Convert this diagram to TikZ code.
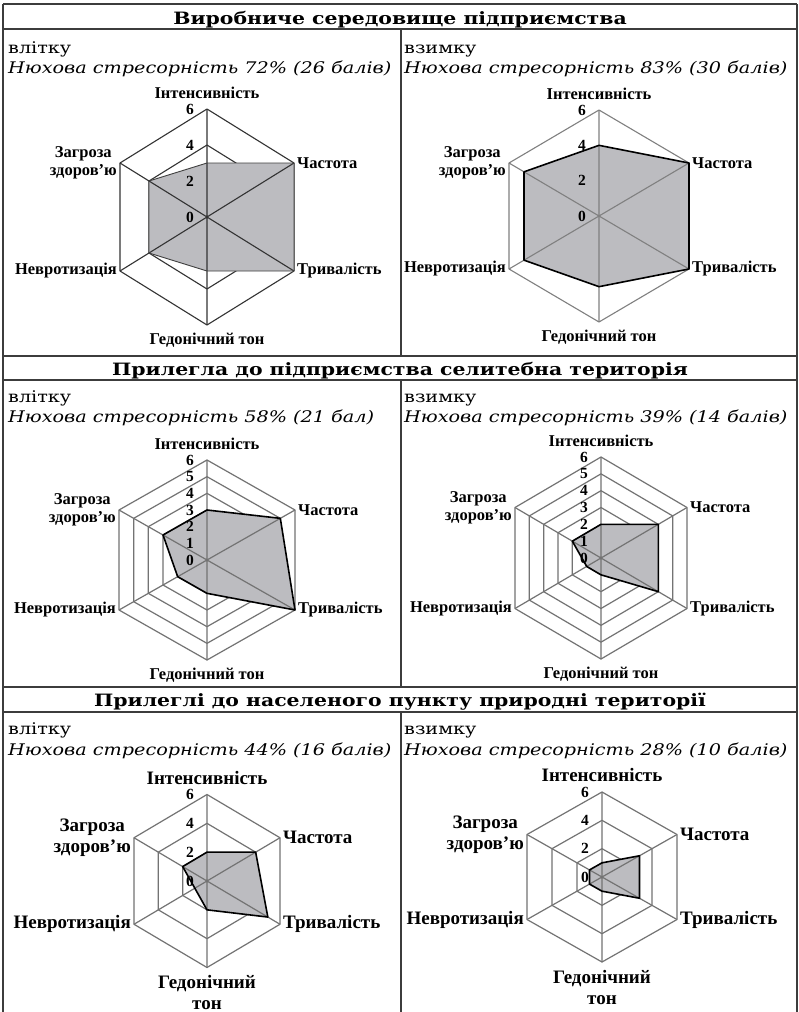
\documentclass[tikz,border=0pt]{standalone}
\usepackage{fontspec}
\setmainfont{DejaVu Serif}
\newfontfamily\titlefont[FakeStretch=1.2]{DejaVu Serif}
\newfontfamily\bodyfont[FakeStretch=1.2]{DejaVu Serif}
\newfontfamily\labfont{Liberation Serif}
\definecolor{fillgray}{RGB}{188,188,192}
\definecolor{tabline}{RGB}{60,60,60}

\newcommand\radar[8]{% id, cx, cy, R, W, rings, values, numbers
  \foreach \r in {#6} {
    \draw[grid] ({#2},{#3-#4*\r/6}) -- ({#2+#5*\r/6},{#3-#4*\r/12}) -- ({#2+#5*\r/6},{#3+#4*\r/12}) -- ({#2},{#3+#4*\r/6}) -- ({#2-#5*\r/6},{#3+#4*\r/12}) -- ({#2-#5*\r/6},{#3-#4*\r/12}) -- cycle;
  }
  \foreach \v [count=\k from 0] in {#7} {
    \coordinate (#1p\k) at ({#2+#5*\v/6*cos(90-60*\k)/cos(30)}, {#3-#4*\v/6*sin(90-60*\k)});
    \coordinate (#1v\k) at ({#2+#5*cos(90-60*\k)/cos(30)}, {#3-#4*sin(90-60*\k)});
  }
  \fill[fillgray] (#1p0) -- (#1p1) -- (#1p2) -- (#1p3) -- (#1p4) -- (#1p5) -- cycle;
  \draw[grid] (#1v0) -- (#1v3) (#1v1) -- (#1v4) (#1v2) -- (#1v5);
  \draw[outline] (#1p0) -- (#1p1) -- (#1p2) -- (#1p3) -- (#1p4) -- (#1p5) -- cycle;
  \foreach \n in {#8} {
    \node[num, anchor=east] (#1n\n) at ({#2-13},{#3-#4*\n/6}) {\n};
  }
}
\newcommand\radarlabels[2]{% id, hedonic text
  \node[lab, anchor=south] (#1int) at ([yshift=10pt]#1v0) {Інтенсивність};
  \node[lab, anchor=west] (#1fr) at ([xshift=3pt]#1v1) {Частота};
  \node[lab, anchor=west] (#1du) at ([xshift=3pt]#1v2) {Тривалість};
  \node[lab, anchor=north, align=center] (#1he) at ([yshift=-8pt]#1v3) {#2};
  \node[lab, anchor=east] (#1ne) at ([xshift=-3pt]#1v4) {Невротизація};
  \node[lab, anchor=east, align=center] (#1th) at ([xshift=-3pt]#1v5) {Загроза\\здоров’ю};
}

\begin{document}
\begin{tikzpicture}[x=1pt,y=-1pt, line join=round,
  tableline/.style={draw=tabline, line width=1.4pt},
  title/.style={font=\titlefont\bfseries\fontsize{17}{20}\selectfont, inner sep=0pt, anchor=base},
  season/.style={font=\bodyfont\fontsize{16}{18}\selectfont, inner sep=0pt, anchor=base west},
  stress/.style={font=\bodyfont\itshape\fontsize{16}{18}\selectfont, inner sep=0pt, anchor=base west},
  lab/.style={font=\labfont\bfseries\fontsize{16.5}{18}\selectfont, inner sep=0pt},
  biglab/.style={font=\labfont\bfseries\fontsize{19}{21}\selectfont, inner sep=0pt},
  num/.style={font=\labfont\bfseries\fontsize{15.5}{16}\selectfont, inner sep=0pt},
  grid/.style={draw=black!80, line width=1.1pt},
  outline/.style={draw=black, line width=1.6pt}]
\useasboundingbox (0,0) rectangle (799,1012);
\fill[white] (0,0) rectangle (799,1012);

% table
\draw[tableline] (3,4) -- (797,4);
\draw[tableline] (3,29) -- (797,29);
\draw[tableline] (3,356) -- (797,356);
\draw[tableline] (3,380) -- (797,380);
\draw[tableline] (3,687) -- (797,687);
\draw[tableline] (3,712) -- (797,712);
\draw[tableline] (3,4) -- (3,1012);
\draw[tableline] (797,4) -- (797,1012);
\draw[tableline] (401,29) -- (401,356);
\draw[tableline] (401,380) -- (401,687);
\draw[tableline] (401,712) -- (401,1012);

% titles
\node[title] (t1) at (400,24) {Виробниче середовище підприємства};
\node[title] (t2) at (400,375) {Прилегла до підприємства селитебна територія};
\node[title] (t3) at (400,706) {Прилеглі до населеного пункту природні території};

% season texts
\node[season] (s1a) at (8,53) {влітку};
\node[stress] (s1b) at (8,73) {Нюхова стресорність 72\% (26 балів)};
\node[season] (s2a) at (404,53) {взимку};
\node[stress] (s2b) at (404,73) {Нюхова стресорність 83\% (30 балів)};
\node[season] (s3a) at (8,402) {влітку};
\node[stress] (s3b) at (8,422) {Нюхова стресорність 58\% (21 бал)};
\node[season] (s4a) at (404,402) {взимку};
\node[stress] (s4b) at (404,422) {Нюхова стресорність 39\% (14 балів)};
\node[season] (s5a) at (8,734) {влітку};
\node[stress] (s5b) at (8,755) {Нюхова стресорність 44\% (16 балів)};
\node[season] (s6a) at (404,734) {взимку};
\node[stress] (s6b) at (404,755) {Нюхова стресорність 28\% (10 балів)};

% chart 1
\begin{scope}[outline/.style={draw=black!75, line width=0.9pt}]
\radar{a}{207}{217}{108}{87}{2,4,6}{3,6,6,3,4,4}{0,2,4,6}
\radarlabels{a}{Гедонічний тон}
\end{scope}
% chart 2
\begin{scope}[grid/.style={draw=black!50, line width=1.1pt}]
\radar{b}{599}{216}{106}{90}{2,4,6}{4,6,6,4,5,5}{0,2,4,6}
\radarlabels{b}{Гедонічний тон}
\end{scope}
% chart 3
\begin{scope}[grid/.style={draw=black!55, line width=1.2pt}]
\radar{c}{207}{560}{100}{88}{1,2,3,4,5,6}{3,5,6,2,2,3}{0,1,2,3,4,5,6}
\radarlabels{c}{Гедонічний тон}
\end{scope}
% chart 4
\begin{scope}[grid/.style={draw=black!55, line width=1.2pt}]
\radar{d}{601}{558}{101}{86}{1,2,3,4,5,6}{2,4,4,1,1,2}{0,1,2,3,4,5,6}
\radarlabels{d}{Гедонічний тон}
\end{scope}
% chart 5
\begin{scope}[grid/.style={draw=black!55, line width=1.2pt}, lab/.style={biglab}]
\radar{e}{207}{881}{86.5}{73}{2,4,6}{2,4,5,2,1,2}{0,2,4,6}
\radarlabels{e}{Гедонічний\\тон}
\end{scope}
% chart 6
\begin{scope}[grid/.style={draw=black!55, line width=1.2pt}, lab/.style={biglab}]
\radar{f}{602}{877}{85}{75}{2,4,6}{1,3,3,1,1,1}{0,2,4,6}
\radarlabels{f}{Гедонічний\\тон}
\end{scope}
\end{tikzpicture}
\end{document}
